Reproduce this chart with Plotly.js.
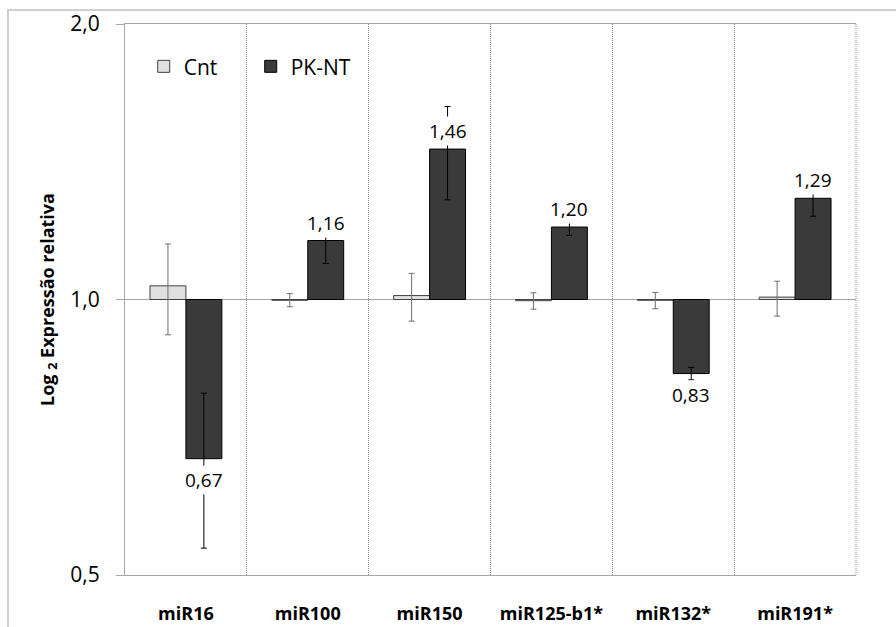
<!DOCTYPE html>
<html><head><meta charset="utf-8">
<script src="https://cdn.plot.ly/plotly-3.0.1.min.js"></script>
<style>
html,body{margin:0;padding:0;background:#fff;}
#wrap{position:relative;width:896px;height:627px;overflow:hidden}
#frame{position:absolute;left:7px;top:9px;width:1000px;height:1000px;border-left:2px solid #cfcfcf;border-top:2px solid #cfcfcf;pointer-events:none}
</style></head><body>
<div id="wrap"><div id="chart" style="width:896px;height:627px"></div><div id="frame"></div></div>
<script>
const categories = ['miR16','miR100','miR150','miR125-b1*','miR132*','miR191*'];
const cntValues = [1.035, 0.998, 1.010, 0.997, 0.998, 1.006];
const cntErrPlus = [0.115, 0.017, 0.058, 0.020, 0.020, 0.041];
const cntErrMinus = [0.120, 0.016, 0.063, 0.021, 0.021, 0.047];
const pkValues = [0.67, 1.16, 1.46, 1.20, 0.83, 1.29];
const pkErrPlus = [0.120, 0.065, 0.165, 0.025, 0.013, 0.057];
const pkErrMinus = [0.135, 0.065, 0.175, 0.025, 0.013, 0.057];
const pkLabels = ['0,67','1,16','1,46','1,20','0,83','1,29'];
const baseline = 1;
const yTickVals = [0.5, 1, 2];
const yTickText = ['0,5', '1,0', '2,0'];

const lineGrey = '#a6a6a6';
const dotGrey = '#8c8c8c';
const traces = [
  {type:'bar', name:'Cnt', x:categories, y:cntValues.map(v => v - baseline), base:baseline,
   marker:{color:'#e0e0e0', line:{color:'#404040', width:1}},
   error_y:{type:'data', symmetric:false, array:cntErrPlus, arrayminus:cntErrMinus, color:'#6e6e6e', thickness:1, width:3},
   hoverinfo:'skip'},
  {type:'bar', name:'PK-NT', x:categories, y:pkValues.map(v => v - baseline), base:baseline,
   marker:{color:'#3a3a3a', line:{color:'#000', width:1}},
   error_y:{type:'data', symmetric:false, array:pkErrPlus, arrayminus:pkErrMinus, color:'#000', thickness:1, width:3},
   hoverinfo:'skip'}
];

const annotations = pkValues.map((v, i) => ({
  x: categories[i], y: Math.log10(v), xref:'x', yref:'y',
  xshift: 18, yshift: v >= baseline ? 18 : -21,
  text: pkLabels[i], showarrow:false, bgcolor:'#ffffff', borderpad:1,
  font:{size:19, color:'#000', family:'Open Sans'}
}));

const layout = {
  width:896, height:627,
  margin:{l:125, r:40, t:24, b:52},
  paper_bgcolor:'rgba(0,0,0,0)', plot_bgcolor:'#fff',
  barmode:'group', bargap:0.41, bargroupgap:0,
  separators:', ',
  font:{family:'Open Sans', color:'#000'},
  showlegend:true,
  legend:{orientation:'h', x:0.0256, xanchor:'left', y:0.9225, yanchor:'middle',
          font:{size:21, color:'#000'}, bgcolor:'rgba(0,0,0,0)', entrywidth:62, traceorder:'normal'},
  xaxis:{type:'category', range:[-0.5, 5.5], tickson:'boundaries', showgrid:true,
         gridcolor:dotGrey, griddash:'1px,1px', gridwidth:1,
         showline:true, linecolor:lineGrey, linewidth:1, mirror:true, ticks:'',
         tickfont:{size:18, weight:'bold', color:'#000'}, ticklabelstandoff:22, zeroline:false, fixedrange:true},
  yaxis:{type:'log', range:[Math.log10(0.5), Math.log10(2)], tickvals:yTickVals, ticktext:yTickText,
         ticks:'outside', ticklen:8, tickcolor:lineGrey, showgrid:true, gridcolor:lineGrey,
         showline:true, linecolor:lineGrey, zeroline:false, tickfont:{size:21, color:'#000'},
         ticklabelstandoff:12,
         title:{text:'Log <sub>2</sub> Expressão relativa', font:{size:18, weight:'bold', color:'#000'}, standoff:11},
         fixedrange:true},
  shapes:[{type:'line', xref:'paper', yref:'paper', x0:1, x1:1, y0:0, y1:1, line:{color:dotGrey, width:1, dash:'1px,1px'}}],
  annotations: annotations
};
Plotly.newPlot('chart', traces, layout, {displayModeBar:false, staticPlot:true});
</script></body></html>
